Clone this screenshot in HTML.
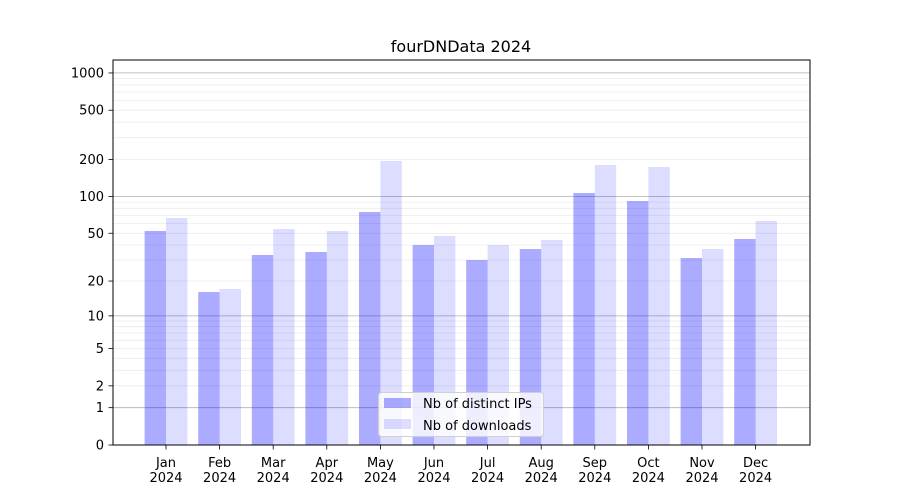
<!DOCTYPE html>
<html><head><meta charset="utf-8"><style>
html,body{margin:0;padding:0;background:#fff;}
svg{display:block;font-family:"DejaVu Sans","Liberation Sans",sans-serif;}
</style></head><body>
<svg id="s" width="900" height="500" xmlns="http://www.w3.org/2000/svg">
<rect width="900" height="500" fill="#fff"/>
<text x="461" y="52" font-size="16" text-anchor="middle">fourDNData 2024</text>
<g id="g"></g>
</svg>
<script>
var g=document.getElementById('g'),h='';
function Y(v){return 445-124*Math.log10(v+1);}
var minors=[];
for(var d of [1,10,100]) for(var k=2;k<10;k++) minors.push(k*d);
minors.forEach(function(v){var y=Y(v).toFixed(1);h+='<line x1="113" x2="810" y1="'+y+'" y2="'+y+'" stroke="#ebebeb" stroke-width="0.8"/>';});
[1,10,100,1000].forEach(function(v){var y=Y(v).toFixed(1);h+='<line x1="113" x2="810" y1="'+y+'" y2="'+y+'" stroke="#b0b0b0" stroke-width="0.8"/>';});
var tops=[[231,218],[292,289],[255,229],[252,231],[212,161],[245,236],[260,245],[249,240],[193,165],[201,167],[258,249],[239,221]];
var mon=['Jan','Feb','Mar','Apr','May','Jun','Jul','Aug','Sep','Oct','Nov','Dec'];
for(var i=0;i<12;i++){
 var c=166+i*53.6;
 h+='<rect x="'+(c-21.4)+'" y="'+tops[i][0]+'" width="21.4" height="'+(445-tops[i][0])+'" fill="rgba(0,0,255,0.33)"/>';
 h+='<rect x="'+c+'" y="'+tops[i][1]+'" width="21.4" height="'+(445-tops[i][1])+'" fill="rgba(0,0,255,0.135)"/>';
 h+='<line x1="'+c+'" x2="'+c+'" y1="445" y2="449.5" stroke="#000" stroke-width="0.8"/>';
 h+='<text x="'+c+'" y="467" font-size="13" text-anchor="middle">'+mon[i]+'</text>';
 h+='<text x="'+c+'" y="482" font-size="13" text-anchor="middle">2024</text>';
}
[0,1,2,5,10,20,50,100,200,500,1000].forEach(function(v){var y=Y(v);
 h+='<line x1="108.5" x2="113" y1="'+y+'" y2="'+y+'" stroke="#000" stroke-width="0.8"/>';
 h+='<text x="104" y="'+(y+4.5)+'" font-size="13" text-anchor="end">'+v+'</text>';});
h+='<rect x="113" y="60" width="697" height="385" fill="none" stroke="#000" stroke-width="1"/>';
h+='<rect x="378.5" y="392.5" width="165" height="44" rx="3" fill="rgba(255,255,255,0.8)" stroke="#d0d0d0"/>';
h+='<rect x="384" y="398" width="27" height="10" fill="rgba(0,0,255,0.33)"/>';
h+='<rect x="384" y="419" width="27" height="10" fill="rgba(0,0,255,0.135)"/>';
h+='<text x="423" y="408" font-size="13">Nb of distinct IPs</text>';
h+='<text x="423" y="430" font-size="13">Nb of downloads</text>';
g.innerHTML=h;
</script>
</body></html>
